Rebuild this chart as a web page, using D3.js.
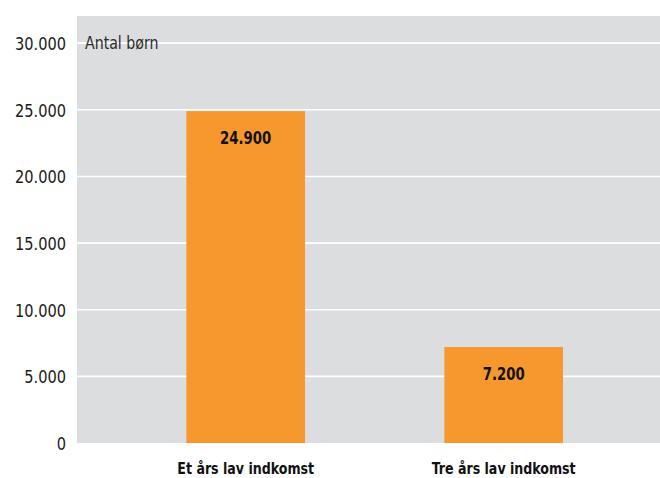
<!DOCTYPE html>
<html>
<head>
<meta charset="utf-8">
<script src="https://cdn.jsdelivr.net/npm/d3@7/dist/d3.min.js"></script>
<style>
  body { margin: 0; background: #fff; }
  text { font-family: "Liberation Sans Narrow", "DejaVu Sans Condensed", sans-serif; }
</style>
</head>
<body>
<svg class="chart" width="660" height="478"></svg>
<script>
const categories = ["Et års lav indkomst", "Tre års lav indkomst"]
const values = [24900, 7200]
const valueLabels = ["24.900", "7.200"]
const yTicks = [0, 5000, 10000, 15000, 20000, 25000, 30000]
const yTitle = "Antal børn"

const plotLeft = 77, plotRight = 660, plotTop = 16, plotBottom = 443

const svg = d3.select('.chart')

const y = d3.scaleLinear()
  .domain([0, 32000])
  .range([plotBottom, plotTop + 0.5])

const x = d3.scaleBand()
  .domain(categories)
  .range([plotLeft, plotRight])
  .paddingInner(0.54)
  .paddingOuter(0.4)
  .align(0.53)

// la fuente original es condensada, se estrecha el texto en horizontal
const squeeze = (px, py, s) => `translate(${px},${py}) scale(${s},1)`

svg.append('rect')
  .attr('x', plotLeft).attr('y', plotTop)
  .attr('width', plotRight - plotLeft).attr('height', plotBottom - plotTop)
  .attr('fill', '#dcdddf')

svg.append('g')
  .selectAll('line')
  .data(yTicks.filter(d => d > 0))
  .join('line')
  .attr('x1', plotLeft).attr('x2', plotRight)
  .attr('y1', d => y(d)).attr('y2', d => y(d))
  .attr('stroke', '#fff')
  .attr('stroke-width', 1.6)

const fmt = d3.formatLocale({decimal: ',', thousands: '.', grouping: [3], currency: ['', ' kr']}).format(',')

svg.append('g')
  .selectAll('text')
  .data(yTicks)
  .join('text')
  .attr('transform', d => squeeze(66, y(d) + 7, 0.9))
  .attr('text-anchor', 'end')
  .attr('font-size', 18)
  .attr('fill', '#1a1a1a')
  .text(d => fmt(d))

svg.append('text')
  .attr('transform', squeeze(85, 49, 0.9))
  .attr('font-size', 17.5)
  .attr('fill', '#2b2b2b')
  .text(yTitle)

svg.append('g')
  .selectAll('rect')
  .data(values)
  .join('rect')
  .attr('x', (d, i) => x(categories[i]))
  .attr('y', d => y(d))
  .attr('width', x.bandwidth())
  .attr('height', d => plotBottom - y(d))
  .attr('fill', '#f7982f')

svg.append('g')
  .selectAll('text')
  .data(values)
  .join('text')
  .attr('transform', (d, i) => squeeze(x(categories[i]) + x.bandwidth() / 2, y(d) + 33, 0.82))
  .attr('text-anchor', 'middle')
  .attr('font-size', 18)
  .attr('font-weight', 'bold')
  .attr('fill', '#111')
  .text((d, i) => valueLabels[i])

svg.append('g')
  .selectAll('text')
  .data(categories)
  .join('text')
  .attr('transform', d => squeeze(x(d) + x.bandwidth() / 2, 474, 0.85))
  .attr('text-anchor', 'middle')
  .attr('font-size', 16.5)
  .attr('font-weight', 'bold')
  .attr('fill', '#111')
  .text(d => d)
</script>
</body>
</html>
